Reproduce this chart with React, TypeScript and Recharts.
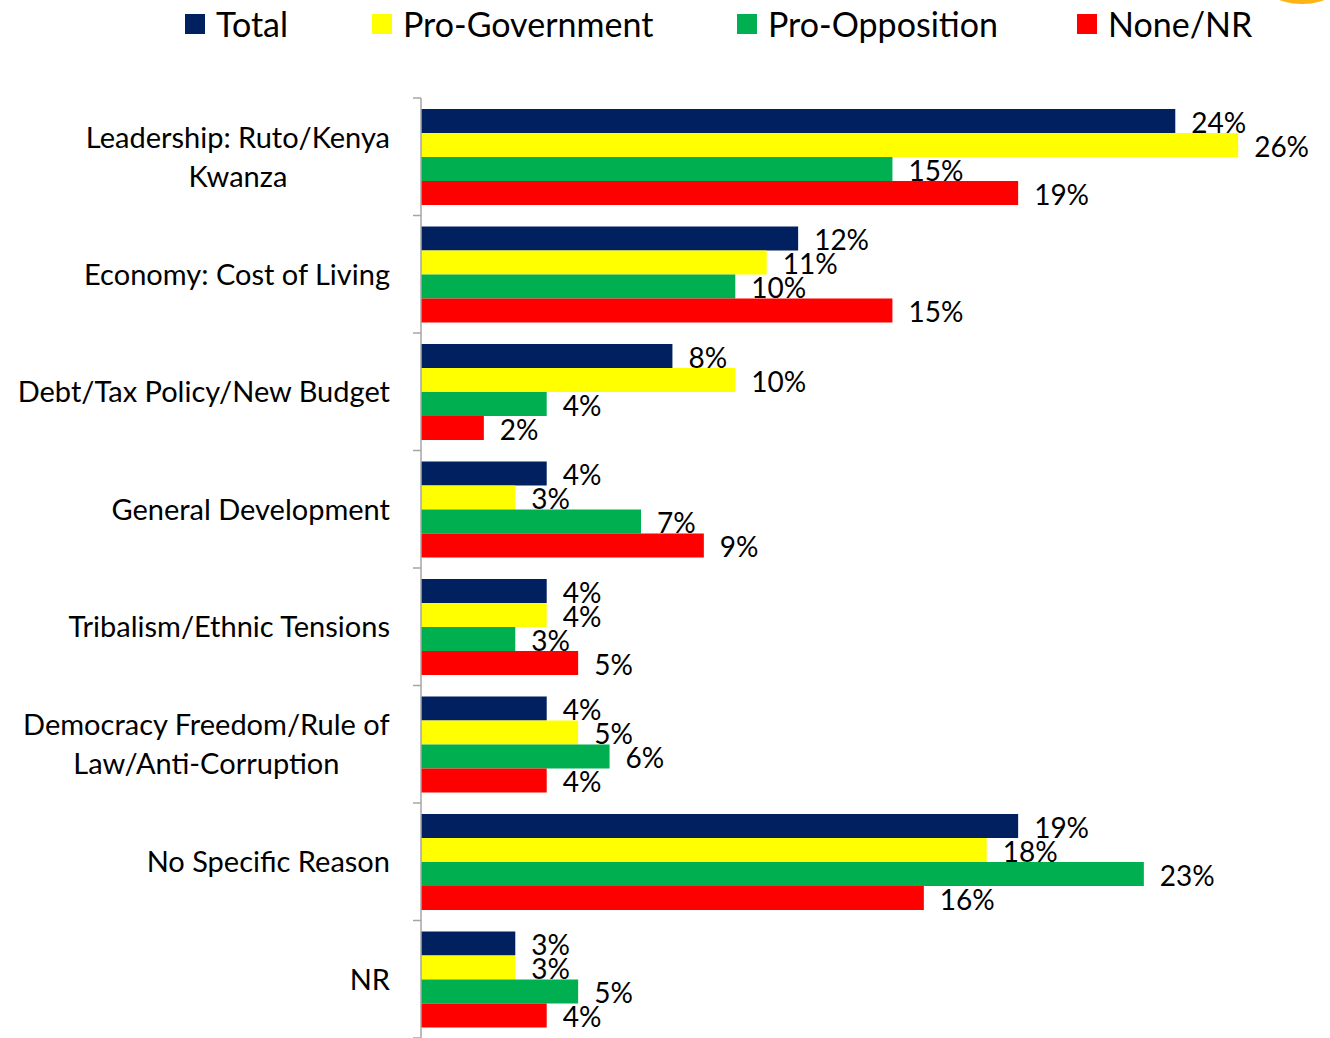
import React from "react";
import { BarChart, Bar, XAxis, YAxis, Legend, LabelList } from "recharts";

const categories = [
  "Leadership: Ruto/Kenya\nKwanza",
  "Economy: Cost of Living",
  "Debt/Tax Policy/New Budget",
  "General Development",
  "Tribalism/Ethnic Tensions",
  "Democracy Freedom/Rule of\nLaw/Anti-Corruption",
  "No Specific Reason",
  "NR",
];

const total = [24, 12, 8, 4, 4, 4, 19, 3];
const proGovernment = [26, 11, 10, 3, 4, 5, 18, 3];
const proOpposition = [15, 10, 4, 7, 3, 6, 23, 5];
const noneNR = [19, 15, 2, 9, 5, 4, 16, 4];

const seriesNames = ["Total", "Pro-Government", "Pro-Opposition", "None/NR"];
const seriesKeys = ["total", "proGov", "proOpp", "none"];
const seriesColors = ["#002060", "#FFFF00", "#00B050", "#FF0000"];

const data = categories.map((c, i) => ({
  name: c,
  total: total[i],
  proGov: proGovernment[i],
  proOpp: proOpposition[i],
  none: noneNR[i],
}));

const FONT = "Lato, 'Open Sans', sans-serif";
const CAT_SIZE = 29;
const PLOT_TOP = 98;
const PLOT_H = 940;
const BAND = PLOT_H / categories.length;
const AXIS_X = 421;
const LABEL_RIGHT = 390;
const LINE_H = 39;
const LEGEND_X = [0, 187, 552, 892];

let measureCtx: CanvasRenderingContext2D | null = null;
function measure(text: string): number {
  if (!measureCtx) {
    const c = document.createElement("canvas");
    measureCtx = c.getContext("2d");
  }
  if (!measureCtx) return text.length * CAT_SIZE * 0.5;
  measureCtx.font = `${CAT_SIZE}px Lato`;
  return measureCtx.measureText(text).width;
}

const CategoryTick = (props: any) => {
  const { y, payload, index } = props;
  const lines: string[] = String(payload.value).split("\n");
  const maxW = Math.max(...lines.map(measure));
  const cx = LABEL_RIGHT - maxW / 2;
  const startY = y - ((lines.length - 1) * LINE_H) / 2;
  const top = y - BAND / 2;
  return (
    <g>
      <line x1={AXIS_X - 8} x2={AXIS_X} y1={top} y2={top} stroke="#A6A6A6" strokeWidth={1.5} />
      {index === categories.length - 1 && (
        <line x1={AXIS_X - 8} x2={AXIS_X} y1={top + BAND} y2={top + BAND} stroke="#A6A6A6" strokeWidth={1.5} />
      )}
      {lines.map((l, i) => (
        <text
          key={i}
          x={lines.length > 1 ? cx : LABEL_RIGHT}
          y={startY + i * LINE_H}
          dy="0.36em"
          textAnchor={lines.length > 1 ? "middle" : "end"}
          fontFamily={FONT}
          fontSize={CAT_SIZE}
          fill="#000"
        >
          {l}
        </text>
      ))}
    </g>
  );
};

const LegendContent = () => (
  <div style={{ position: "relative", width: 1100, height: 40, fontFamily: FONT, fontSize: 34, color: "#000", whiteSpace: "nowrap" }}>
    {seriesNames.map((n, i) => (
      <div key={n} style={{ position: "absolute", left: LEGEND_X[i], top: 0, display: "flex", alignItems: "center", height: 40 }}>
        <span style={{ display: "inline-block", width: 20, height: 20, background: seriesColors[i], marginRight: 11 }} />
        <span style={{ lineHeight: "40px" }}>{n}</span>
      </div>
    ))}
  </div>
);

export default function App() {
  return (
    <div style={{ position: "absolute", left: 0, top: 0, width: 1330, height: 1038, background: "#fff", overflow: "hidden" }}>
      <svg width={80} height={8} style={{ position: "absolute", left: 1252, top: 0 }}>
        <ellipse cx={50} cy={-30} rx={48} ry={34} fill="#FDB515" />
      </svg>
      <BarChart
        width={1330}
        height={1038}
        data={data}
        layout="vertical"
        margin={{ top: PLOT_TOP, right: 29, left: 0, bottom: 0 }}
        barSize={24}
        barGap={0}
      >
        <XAxis type="number" domain={[0, 28]} hide />
        <YAxis
          type="category"
          dataKey="name"
          width={AXIS_X}
          axisLine={{ stroke: "#A6A6A6", strokeWidth: 1.5 }}
          tickLine={false}
          tick={<CategoryTick />}
          interval={0}
        />
        <Legend
          verticalAlign="middle"
          align="center"
          content={<LegendContent />}
          wrapperStyle={{ position: "absolute", top: 4, left: 185, width: "auto", transform: "none" }}
        />
        {seriesKeys.map((k, i) => (
          <Bar key={k} dataKey={k} name={seriesNames[i]} fill={seriesColors[i]} isAnimationActive={false}>
            <LabelList
              dataKey={k}
              position="right"
              offset={16}
              formatter={(v: any) => `${v}%`}
              style={{ fontFamily: FONT, fontSize: 28, fill: "#000", transform: "translateY(2px)" }}
            />
          </Bar>
        ))}
      </BarChart>
    </div>
  );
}
